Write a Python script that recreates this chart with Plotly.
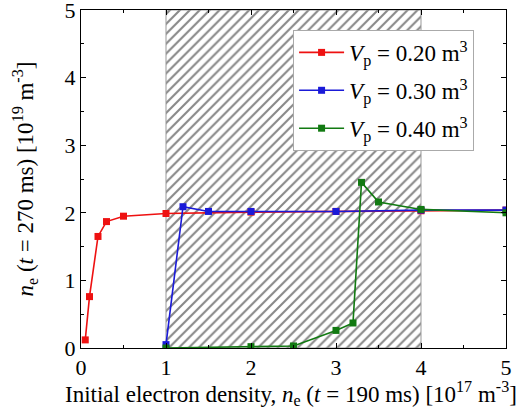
import plotly.graph_objects as go

# Data
x_red = [0.05, 0.1, 0.2, 0.3, 0.5, 1.0, 2.0, 3.0, 4.0, 5.0]
y_red = [0.12, 0.76, 1.65, 1.87, 1.95, 1.99, 2.01, 2.02, 2.03, 2.04]

x_blue = [1.0, 1.2, 1.5, 2.0, 3.0, 4.0, 5.0]
y_blue = [0.05, 2.09, 2.02, 2.02, 2.02, 2.04, 2.04]

x_green = [1.0, 2.0, 2.5, 3.0, 3.2, 3.3, 3.5, 4.0, 5.0]
y_green = [0.0, 0.02, 0.03, 0.26, 0.37, 2.45, 2.16, 2.05, 2.0]

names = ["<i>V</i><sub>p</sub> = 0.20 m<sup>3</sup>",
         "<i>V</i><sub>p</sub> = 0.30 m<sup>3</sup>",
         "<i>V</i><sub>p</sub> = 0.40 m<sup>3</sup>"]
colors = ["#ee1111", "#1a1ad8", "#127a12"]

tick_vals = [0, 1, 2, 3, 4, 5]
hatch_x = [1.0, 4.0]
y_range = [0, 5]
x_range = [0, 5]

x_title = "Initial electron density, <i>n</i><sub>e</sub> (<i>t</i> = 190 ms) [10<sup>17</sup> m<sup>-3</sup>]"
y_title = "<i>n</i><sub>e</sub> (<i>t</i> = 270 ms) [10<sup>19</sup> m<sup>-3</sup>]"

font_family = "Liberation Serif"

fig = go.Figure()

# hatched region
fig.add_trace(go.Scatter(
    x=[hatch_x[0], hatch_x[1], hatch_x[1], hatch_x[0], hatch_x[0]],
    y=[y_range[0], y_range[0], y_range[1], y_range[1], y_range[0]],
    mode="lines", fill="toself",
    line=dict(color="#999999", width=1),
    fillcolor="white",
    fillpattern=dict(shape="/", fgcolor="#111111", bgcolor="white", size=7, solidity=0.3),
    showlegend=False, hoverinfo="skip"))

for i, (xs, ys, nm, c) in enumerate([(x_red, y_red, names[0], colors[0]),
                                     (x_blue, y_blue, names[1], colors[1]),
                                     (x_green, y_green, names[2], colors[2])]):
    fig.add_trace(go.Scatter(x=xs, y=ys, name=nm, mode="lines+markers",
                             legendgroup=f"g{i}",
                             line=dict(color=c, width=1.6),
                             marker=dict(symbol="square", size=7, color=c)))

axis_common = dict(showline=True, linecolor="black", linewidth=1, mirror="ticks",
                   ticks="inside", ticklen=5, tickcolor="black", showgrid=False,
                   zeroline=False, tickfont=dict(size=22, color="black", family=font_family),
                   tickmode="array", tickvals=tick_vals, automargin=False,
                   ticklabeloverflow="allow",
                   minor=dict(ticks="inside", ticklen=3, tickcolor="black", dtick=0.5))

fig.update_xaxes(range=x_range, **axis_common)
fig.update_yaxes(range=y_range, **axis_common)

fig.add_annotation(text=x_title, xref="paper", yref="paper", x=0.494, y=-0.136,
                   xanchor="center", yanchor="middle", showarrow=False,
                   font=dict(size=23, color="black", family=font_family))
fig.add_annotation(text=y_title, xref="paper", yref="paper", x=-0.133, y=0.5,
                   xanchor="center", yanchor="middle", showarrow=False, textangle=-90,
                   font=dict(size=23, color="black", family=font_family))

fig.update_layout(
    width=526, height=418,
    margin=dict(l=81, r=20, t=10, b=70),
    plot_bgcolor="white", paper_bgcolor="white",
    font=dict(family=font_family, color="black"),
    legend=dict(x=0.499, y=0.941, xanchor="left", yanchor="top",
                bgcolor="white", bordercolor="#aaaaaa", borderwidth=1,
                font=dict(size=23, family=font_family, color="black"),
                itemwidth=45, tracegroupgap=5, traceorder="grouped"),
)

fig.write_html("out.html", config={"displayModeBar": False},
               post_script="document.body.style.margin='0px';")
